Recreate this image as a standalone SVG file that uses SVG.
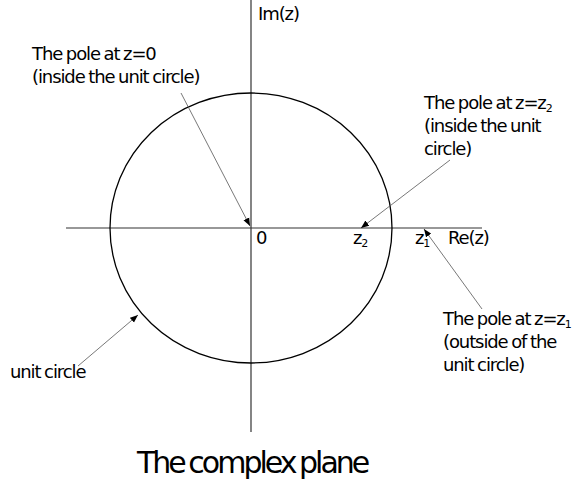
<svg xmlns="http://www.w3.org/2000/svg" width="573" height="487" viewBox="0 0 573 487">
<defs>
<marker id="ah" viewBox="0 0 10 10" refX="10" refY="5" markerWidth="8" markerHeight="8" markerUnits="userSpaceOnUse" orient="auto">
<path d="M0,1 L10,5 L0,9 Z" fill="#000"/>
</marker>
<style>
.t{font-family:"DejaVu Sans","Liberation Sans",sans-serif;font-size:18px;letter-spacing:-1.1px;word-spacing:-1px;fill:#000}
.big{font-size:30px;letter-spacing:-3px;word-spacing:-2px}
.sub{font-size:11px;letter-spacing:0}
.ax{stroke:#333;stroke-width:1.2;fill:none}
.ar{stroke:#555;stroke-width:0.8;fill:none;marker-end:url(#ah)}
</style>
</defs>
<rect width="573" height="487" fill="#fff"/>
<g id="axes">
<line class="ax" x1="251" y1="0" x2="251" y2="432"/>
<line class="ax" x1="66" y1="228" x2="482" y2="228"/>
</g>
<g id="unit-circle">
<ellipse cx="251" cy="228" rx="141" ry="135" fill="none" stroke="#000" stroke-width="1.3"/>
</g>
<g id="labels">
<text class="t" x="258" y="20">Im(z)</text>
<text class="t" x="448" y="244">Re(z)</text>
<text class="t" x="256" y="244">0</text>
<text class="t" x="353" y="244">z<tspan class="sub" dy="3">2</tspan></text>
<text class="t" x="415" y="244">z<tspan class="sub" dy="3">1</tspan></text>
</g>
<g id="pole0">
<text class="t" x="32" y="60">The pole at z=0</text>
<text class="t" x="32" y="83">(inside the unit circle)</text>
</g>
<g id="pole-z2">
<text class="t" x="424" y="109">The pole at z=z<tspan class="sub" dy="3">2</tspan></text>
<text class="t" x="424" y="132">(inside the unit</text>
<text class="t" x="424" y="155">circle)</text>
</g>
<g id="pole-z1">
<text class="t" x="443" y="325">The pole at z=z<tspan class="sub" dy="3">1</tspan></text>
<text class="t" x="443" y="348">(outside of the</text>
<text class="t" x="443" y="371">unit circle)</text>
</g>
<g id="unit-label">
<text class="t" x="10" y="378">unit circle</text>
</g>
<g id="title">
<text class="t big" x="137" y="473">The complex plane</text>
</g>
<g id="connectors">
<line class="ar" x1="181" y1="93" x2="250" y2="226"/>
<line class="ar" x1="450" y1="160" x2="361" y2="228"/>
<line class="ar" x1="482" y1="309" x2="424" y2="229"/>
<line class="ar" x1="78" y1="366" x2="138" y2="315"/>
</g>
</svg>
